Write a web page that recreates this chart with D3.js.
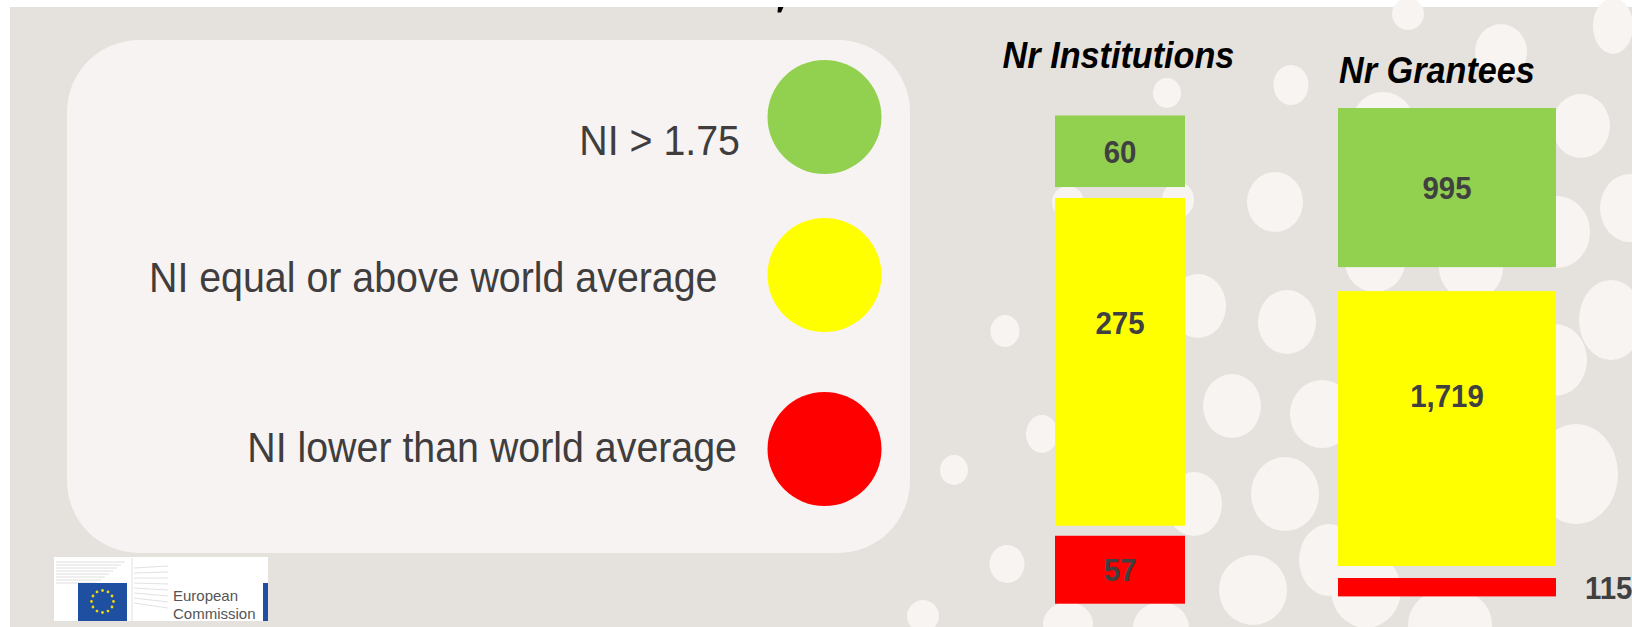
<!DOCTYPE html>
<html>
<head>
<meta charset="utf-8">
<script src="https://cdn.jsdelivr.net/npm/d3@7"></script>
<style>
  body { margin: 0; background: #fff; }
  svg { display: block; font-family: Arial, "Liberation Sans", sans-serif; }
</style>
</head>
<body>
<svg width="1632" height="627"></svg>
<script>
// data
const categories = ["NI > 1.75", "NI equal or above world average", "NI lower than world average"];
const colors = ["#92d050", "#ffff00", "#ff0000"];
const columnTitles = ["Nr Institutions", "Nr Grantees"];
const institutions = [60, 275, 57];
const grantees = [995, 1719, 115];

// background dots (decoration only)
const dots = [
    [1408, 14, 16, 16], [1501, 52, 26, 28], [1613, 26, 20, 28], [1291, 85, 17.5, 20],
    [1167, 93, 14, 15], [1581, 126, 29, 32], [1383, 120, 30, 28], [1275, 202, 28, 30],
    [1178, 200, 16, 18], [1068, 202, 16, 16], [1557, 232, 33, 36], [1630, 208, 30, 34],
    [1375, 262, 30, 30], [1471, 268, 32, 32], [1198, 306, 28, 32], [1287, 322, 29, 32],
    [1611, 320, 32, 40], [1005, 331, 14.5, 16], [1232, 406, 29, 32], [1322, 414, 32, 34],
    [1555, 360, 32, 36], [1042, 434, 16, 19], [1576, 474, 42, 50], [954, 470, 14, 15],
    [1285, 494, 34, 37], [1194, 504, 28, 32], [1007, 564, 17.5, 19], [1253, 590, 34, 35],
    [1329, 560, 30, 36], [923, 616, 16, 16], [1068, 624, 25, 22], [1161, 628, 28, 26],
    [1450, 624, 42, 36], [1366, 590, 35, 38]
];

const width = 1632;
const height = 627;
const svg = d3.select("svg");

// page background
svg.append("rect").attr("width", width).attr("height", height).attr("fill", "#fff");
svg.append("rect")
    .attr("x", 10).attr("y", 7)
    .attr("width", width - 10).attr("height", height - 7)
    .attr("fill", "#e5e1dd");

svg.append("g").selectAll("ellipse")
    .data(dots)
    .enter().append("ellipse")
    .attr("cx", d => d[0]).attr("cy", d => d[1])
    .attr("rx", d => d[2]).attr("ry", d => d[3])
    .attr("fill", "#f7f4f2");

// tail of the cut-off slide title
svg.append("path")
    .attr("d", "M778,7 L783.5,7 L781,12.5 L777.5,12.5 Z")
    .attr("fill", "#000");

// legend panel
svg.append("rect")
    .attr("x", 67).attr("y", 40)
    .attr("width", 843).attr("height", 513)
    .attr("rx", 72).attr("ry", 72)
    .attr("fill", "#f7f3f2");

const row = categories.map((d, i) => i);
const circleY = d3.scaleLinear().domain(row).range([117, 275, 449]);
const textY = d3.scaleLinear().domain(row).range([139.5, 276, 446.5]);
const textX = d3.scaleLinear().domain(row).range([740, 717.5, 737]);

svg.append("g").selectAll("circle")
    .data(categories)
    .enter().append("circle")
    .attr("cx", 824.5)
    .attr("cy", (d, i) => circleY(i))
    .attr("r", 57)
    .attr("fill", (d, i) => colors[i]);

svg.append("g").selectAll("g")
    .data(categories)
    .enter().append("g")
    .attr("transform", (d, i) => `translate(${textX(i)},${textY(i) + 15.5}) scale(0.915,1)`)
    .append("text")
    .attr("text-anchor", "end")
    .attr("font-size", 43)
    .attr("fill", "#3f3d3d")
    .text(d => d);

// bar columns
const columns = [
    { values: institutions, x: 1055, w: 130, top: 115.5, bottom: 603.7, gaps: [11, 10], titleX: 1118.5, titleY: 68.3 },
    { values: grantees, x: 1338, w: 218, top: 108, bottom: 596.4, gaps: [24, 12], titleX: 1437, titleY: 82.7 }
];
const fmt = d3.format(",");

columns.forEach((col, ci) => {
    const g = svg.append("g");

    g.append("g")
        .attr("transform", `translate(${col.titleX},${col.titleY}) scale(0.95,1)`)
        .append("text")
        .attr("text-anchor", "middle")
        .attr("font-size", 36).attr("font-weight", "bold").attr("font-style", "italic")
        .attr("fill", "#000")
        .text(columnTitles[ci]);

    const h = d3.scaleLinear()
        .domain([0, d3.sum(col.values)])
        .range([0, col.bottom - col.top - d3.sum(col.gaps)]);

    let y = col.top;
    const segs = col.values.map((v, i) => {
        const s = { v: v, y: y, h: h(v), color: colors[i] };
        y += h(v) + (col.gaps[i] || 0);
        return s;
    });

    g.selectAll("rect")
        .data(segs)
        .enter().append("rect")
        .attr("x", col.x).attr("y", d => d.y)
        .attr("width", col.w).attr("height", d => d.h)
        .attr("fill", d => d.color);

    // labels: inside the bar, or to the right when the bar is too thin
    g.selectAll("g.lbl")
        .data(segs)
        .enter().append("g")
        .attr("class", "lbl")
        .attr("transform", d => {
            if (d.h < 30) return `translate(${col.x + col.w + 29},${d.y + d.h / 2 + 11.5}) scale(0.92,1)`;
            const cy = d.h > 200 ? d.y + d.h * 0.38 : d.y + d.h / 2;
            return `translate(${col.x + col.w / 2},${cy + 11.5}) scale(0.92,1)`;
        })
        .append("text")
        .attr("text-anchor", d => d.h < 30 ? "start" : "middle")
        .attr("font-size", 32).attr("font-weight", "bold")
        .attr("fill", "#404040")
        .text(d => fmt(d.v));
});

// European Commission logo
const logo = svg.append("g");
logo.append("rect").attr("x", 54).attr("y", 557).attr("width", 214).attr("height", 64).attr("fill", "#fff");
d3.range(8).forEach(i => {
    logo.append("line")
        .attr("x1", 56).attr("x2", 125 - i * 4)
        .attr("y1", 562 + i * 3).attr("y2", 562 + i * 3)
        .attr("stroke", "#dedede").attr("stroke-width", 1);
    logo.append("line")
        .attr("x1", 134).attr("x2", 168)
        .attr("y1", 568 + i * 5).attr("y2", 566 + i * 5 + i)
        .attr("stroke", "#e2e2e2").attr("stroke-width", 1);
});
logo.append("line").attr("x1", 132).attr("x2", 132).attr("y1", 558).attr("y2", 621).attr("stroke", "#e0e0e0");
logo.append("rect").attr("x", 78).attr("y", 583).attr("width", 49).attr("height", 38).attr("fill", "#1e4fa0");
logo.selectAll("circle.star")
    .data(d3.range(12))
    .enter().append("circle")
    .attr("class", "star")
    .attr("cx", i => 102.5 + 11 * Math.cos(i * Math.PI / 6))
    .attr("cy", i => 601.5 + 11 * Math.sin(i * Math.PI / 6))
    .attr("r", 1.4)
    .attr("fill", "#f2d70c");
logo.append("text").attr("x", 173).attr("y", 601).attr("font-size", 15).attr("fill", "#555").text("European");
logo.append("text").attr("x", 173).attr("y", 619).attr("font-size", 15).attr("fill", "#555").text("Commission");
logo.append("rect").attr("x", 263).attr("y", 583).attr("width", 5).attr("height", 38).attr("fill", "#1e4fa0");
svg.append("rect").attr("x", 54).attr("y", 621).attr("width", 214).attr("height", 6).attr("fill", "#e5e1dd");
</script>
</body>
</html>
